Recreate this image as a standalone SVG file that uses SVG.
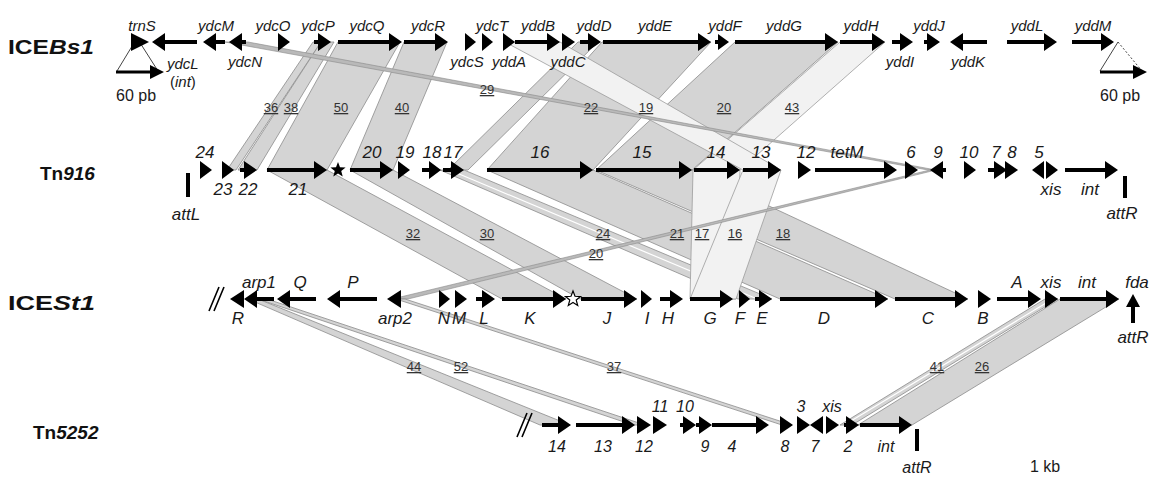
<svg xmlns="http://www.w3.org/2000/svg" width="1151" height="485" viewBox="0 0 1151 485">
<defs>
<style>
text{font-family:"Liberation Sans",Arial,sans-serif}
.band{fill:#d4d4d4;stroke:#8c8c8c;stroke-width:0.8}
.lband{fill:#f2f2f2;stroke:#9c9c9c;stroke-width:0.8}
.tband{fill:#b9b9b9;stroke:#8a8a8a;stroke-width:0.6}
.sep{fill:none;stroke:#fff;stroke-width:1.2}
.gene{fill:#000}
.l15{font-style:italic;font-size:15px;fill:#1a1a1a;text-anchor:middle}
.l16{font-style:italic;font-size:16px;fill:#1a1a1a;text-anchor:middle}
.l17{font-style:italic;font-size:17px;fill:#1a1a1a;text-anchor:middle}
.pct{font-size:13px;fill:#333;text-anchor:middle;text-decoration:underline}
.row{font-weight:bold;font-size:21px;fill:#111}
.rowt{font-weight:bold;font-size:19px;fill:#111}
.pb{font-size:16px;fill:#1a1a1a}
.outline{fill:none;stroke:#444;stroke-width:1}
</style>
<path id="star" d="M0,-8 L2,-2.75 L7.61,-2.47 L3.23,1.05 L4.7,6.47 L0,3.4 L-4.7,6.47 L-3.23,1.05 L-7.61,-2.47 L-2,-2.75 Z"/>
</defs>
<rect width="1151" height="485" fill="#fff"/>

<g id="connectors">
  <polygon class="band" points="313,42 321,42 236,170 227,170"/>
  <polygon class="band" points="321,42 334,42 257,170 238,170"/>
  <polygon class="band" points="338,42 400,42 327,170 267,170"/>
  <polygon class="band" points="404,42 447,42 393,170 350,170"/>
  <polygon class="band" points="578,42 598,42 468,170 448,170"/>
  <polygon class="band" points="602,42 711,42 593,170 487,170"/>
  <polygon class="band" points="735,42 838,42 692,170 596,170"/>
  <polygon class="band" points="267,170 327,170 566,299 502,299"/>
  <polygon class="band" points="350,170 393,170 637,299 580,299"/>
  <polygon class="band" points="487,170 593,170 888,299 780,299"/>
  <polygon class="band" points="596,170 692,170 968,299 895,299"/>
  <polygon class="band" points="440,170 464,170 772,299 738,299"/>
  <path class="sep" d="M452,171 L755,298"/>
  <polygon class="band" points="1060,299 1119,299 912,425 858,425"/>
  <polygon class="lband" points="840,42 885,42 740,170 693,170"/>
  <polygon class="lband" points="505,42 560,42 781,170 743,170"/>
  <polygon class="lband" points="693,170 740,170 736,299 690,299"/>
  <polygon class="lband" points="743,170 781,170 736,299 690,299"/>
  <polygon class="tband" points="225,42 248,42 936,170 928,170"/>
  <polygon class="tband" points="392,299 408,299 936,170 930,170"/>
  <polygon class="band" points="248,299 258,299 570,425 540,425"/>
  <polygon class="band" points="258,299 267,299 645,425 633,425"/>
  <polygon class="band" points="396,299 405,299 792,425 782,425"/>
  <polygon class="band" points="1045,299 1058,299 852,425 840,425"/>
  <path class="sep" d="M1051,300 L846,424"/>

  <g id="identity-labels">
    <text class="pct" x="271" y="112">36</text>
    <text class="pct" x="291" y="112">38</text>
    <text class="pct" x="341" y="112">50</text>
    <text class="pct" x="402" y="112">40</text>
    <text class="pct" x="487" y="94">29</text>
    <text class="pct" x="591" y="112">22</text>
    <text class="pct" x="646" y="112">19</text>
    <text class="pct" x="724" y="112">20</text>
    <text class="pct" x="792" y="112">43</text>
    <text class="pct" x="413" y="238">32</text>
    <text class="pct" x="487" y="238">30</text>
    <text class="pct" x="603" y="238">24</text>
    <text class="pct" x="596" y="258">20</text>
    <text class="pct" x="677" y="238">21</text>
    <text class="pct" x="702" y="238">17</text>
    <text class="pct" x="735" y="238">16</text>
    <text class="pct" x="783" y="238">18</text>
    <text class="pct" x="414" y="371">44</text>
    <text class="pct" x="461" y="371">52</text>
    <text class="pct" x="614" y="371">37</text>
    <text class="pct" x="937" y="371">41</text>
    <text class="pct" x="982" y="371">26</text>
  </g>
</g>

<g id="ICEBs1">
  <text class="row" x="8" y="54" textLength="86" lengthAdjust="spacingAndGlyphs">ICE<tspan font-style="italic">Bs1</tspan></text>
  <g id="left-60pb">
    <path class="outline" d="M117,71 L137,38 L158,71"/>
    <path class="gene" d="M116,70.5 H150 V65 L164,72 L150,79 V73.5 H116 Z"/>
    <text class="pb" x="116" y="101">60 pb</text>
  </g>
  <g id="trnS"><path class="gene" d="M131,33 L149,42 L131,51 Z"/><text class="l15" x="142" y="31">trnS</text></g>
  <g id="ydcL"><path class="gene" d="M197,40 H165 V33 L152,42 L165,51 V44 H197 Z"/><text class="l15" x="167" y="69" style="text-anchor:start">ydcL</text><text class="l15" x="170" y="87" style="text-anchor:start;font-style:normal">(<tspan font-style="italic">int</tspan>)</text></g>
  <g id="ydcM"><path class="gene" d="M225,40 H216 V33 L203,42 L216,51 V44 H225 Z"/><text class="l15" x="216" y="31">ydcM</text></g>
  <g id="ydcN"><path class="gene" d="M246,40 H242 V33 L229,42 L242,51 V44 H246 Z"/><text class="l15" x="245" y="67">ydcN</text></g>
  <g id="ydcO"><path class="gene" d="M278,33 L290,42 L278,51 Z"/><text class="l15" x="273" y="31">ydcO</text></g>
  <g id="ydcP"><path class="gene" d="M314,40 H318 V33 L331,42 L318,51 V44 H314 Z"/><text class="l15" x="318" y="31">ydcP</text></g>
  <g id="ydcQ"><path class="gene" d="M338,40 H389 V33 L402,42 L389,51 V44 H338 Z"/><text class="l15" x="367" y="31">ydcQ</text></g>
  <g id="ydcR"><path class="gene" d="M404,40 H435 V33 L448,42 L435,51 V44 H404 Z"/><text class="l15" x="428" y="31">ydcR</text></g>
  <g id="ydcS"><path class="gene" d="M465,33 L476,42 L465,51 Z"/><text class="l15" x="467" y="67">ydcS</text></g>
  <g id="ydcT"><path class="gene" d="M482,33 L493,42 L482,51 Z"/><text class="l15" x="492" y="31">ydcT</text></g>
  <g id="yddA"><path class="gene" d="M503,33 L515,42 L503,51 Z"/><text class="l15" x="509" y="67">yddA</text></g>
  <g id="yddB"><path class="gene" d="M515,40 H547 V33 L560,42 L547,51 V44 H515 Z"/><text class="l15" x="538" y="31">yddB</text></g>
  <g id="yddC"><path class="gene" d="M562,33 L575,42 L562,51 Z"/><text class="l15" x="568" y="67">yddC</text></g>
  <g id="yddD"><path class="gene" d="M580,40 H588 V33 L601,42 L588,51 V44 H580 Z"/><text class="l15" x="594" y="31">yddD</text></g>
  <g id="yddE"><path class="gene" d="M603,40 H698 V33 L711,42 L698,51 V44 H603 Z"/><text class="l15" x="655" y="31">yddE</text></g>
  <g id="yddF"><path class="gene" d="M715,40 H718 V34 L729,42 L718,50 V44 H715 Z"/><text class="l15" x="725" y="31">yddF</text></g>
  <g id="yddG"><path class="gene" d="M735,40 H825 V33 L838,42 L825,51 V44 H735 Z"/><text class="l15" x="784" y="31">yddG</text></g>
  <g id="yddH"><path class="gene" d="M840,40 H872 V33 L885,42 L872,51 V44 H840 Z"/><text class="l15" x="861" y="31">yddH</text></g>
  <g id="yddI"><path class="gene" d="M892,40 H900 V33 L913,42 L900,51 V44 H892 Z"/><text class="l15" x="900" y="67">yddI</text></g>
  <g id="yddJ"><path class="gene" d="M924,40 H927 V33 L940,42 L927,51 V44 H924 Z"/><text class="l15" x="929" y="31">yddJ</text></g>
  <g id="yddK"><path class="gene" d="M987,40 H963 V33 L950,42 L963,51 V44 H987 Z"/><text class="l15" x="968" y="67">yddK</text></g>
  <g id="yddL"><path class="gene" d="M1007,40 H1044 V33 L1057,42 L1044,51 V44 H1007 Z"/><text class="l15" x="1027" y="31">yddL</text></g>
  <g id="yddM"><path class="gene" d="M1072,40 H1101 V33 L1114,42 L1101,51 V44 H1072 Z"/><text class="l15" x="1093" y="31">yddM</text></g>
  <g id="right-60pb">
    <path class="outline" d="M1100,71 L1118,42"/>
    <path class="outline" d="M1118,42 L1142,71" stroke-dasharray="2,2"/>
    <path class="gene" d="M1100,70.5 H1133 V65 L1147,72 L1133,79 V73.5 H1100 Z"/>
    <text class="pb" x="1100" y="101">60 pb</text>
  </g>
</g>

<g id="Tn916">
  <text class="rowt" x="40" y="180">Tn<tspan font-style="italic">916</tspan></text>
  <g id="Tn916-attL"><rect class="gene" x="186" y="173" width="4" height="24"/><text class="l17" x="186" y="220">attL</text></g>
  <g id="Tn916-24"><path class="gene" d="M200,161 L212,170 L200,179 Z"/><text class="l17" x="205" y="158">24</text></g>
  <g id="Tn916-23"><path class="gene" d="M222,161 L234,170 L222,179 Z"/><text class="l17" x="223" y="195">23</text></g>
  <g id="Tn916-22"><path class="gene" d="M240,168 H244 V161 L257,170 L244,179 V172 H240 Z"/><text class="l17" x="248" y="195">22</text></g>
  <g id="Tn916-21"><path class="gene" d="M267,168 H314 V161 L327,170 L314,179 V172 H267 Z"/><text class="l17" x="298" y="195">21</text></g>
  <g id="Tn916-star"><use href="#star" x="338" y="170" fill="#000"/></g>
  <g id="Tn916-20"><path class="gene" d="M350,168 H380 V161 L393,170 L380,179 V172 H350 Z"/><text class="l17" x="372" y="158">20</text></g>
  <g id="Tn916-19"><path class="gene" d="M398,161 L410,170 L398,179 Z"/><text class="l17" x="405" y="158">19</text></g>
  <g id="Tn916-18"><path class="gene" d="M422,168 H429 V161 L441,170 L429,179 V172 H422 Z"/><text class="l17" x="432" y="158">18</text></g>
  <g id="Tn916-17"><path class="gene" d="M443,168 H451 V161 L464,170 L451,179 V172 H443 Z"/><text class="l17" x="453" y="158">17</text></g>
  <g id="Tn916-16"><path class="gene" d="M487,168 H580 V161 L593,170 L580,179 V172 H487 Z"/><text class="l17" x="540" y="158">16</text></g>
  <g id="Tn916-15"><path class="gene" d="M596,168 H679 V161 L692,170 L679,179 V172 H596 Z"/><text class="l17" x="642" y="158">15</text></g>
  <g id="Tn916-14"><path class="gene" d="M694,168 H727 V161 L740,170 L727,179 V172 H694 Z"/><text class="l17" x="716" y="158">14</text></g>
  <g id="Tn916-13"><path class="gene" d="M743,168 H768 V161 L781,170 L768,179 V172 H743 Z"/><text class="l17" x="761" y="158">13</text></g>
  <g id="Tn916-12"><path class="gene" d="M798,161 L811,170 L798,179 Z"/><text class="l17" x="806" y="158">12</text></g>
  <g id="Tn916-tetM"><path class="gene" d="M815,168 H884 V161 L897,170 L884,179 V172 H815 Z"/><text class="l17" x="847" y="158">tetM</text></g>
  <g id="Tn916-6"><path class="gene" d="M905,161 L918,170 L905,179 Z"/><text class="l17" x="911" y="158">6</text></g>
  <g id="Tn916-9"><path class="gene" d="M946,168 H943 V161 L930,170 L943,179 V172 H946 Z"/><text class="l17" x="938" y="158">9</text></g>
  <g id="Tn916-10"><path class="gene" d="M964,161 L976,170 L964,179 Z"/><text class="l17" x="969" y="158">10</text></g>
  <g id="Tn916-7"><path class="gene" d="M988,168 H994 V161 L1007,170 L994,179 V172 H988 Z"/><text class="l17" x="996" y="158">7</text></g>
  <g id="Tn916-8"><path class="gene" d="M1005,161 L1018,170 L1005,179 Z"/><text class="l17" x="1012" y="158">8</text></g>
  <g id="Tn916-5"><path class="gene" d="M1044,161 L1032,170 L1044,179 Z"/><text class="l17" x="1039" y="158">5</text></g>
  <g id="Tn916-xis"><path class="gene" d="M1046,161 L1058,170 L1046,179 Z"/><text class="l17" x="1051" y="195">xis</text></g>
  <g id="Tn916-int"><path class="gene" d="M1065,168 H1105 V161 L1118,170 L1105,179 V172 H1065 Z"/><text class="l17" x="1090" y="195">int</text></g>
  <g id="Tn916-attR"><rect class="gene" x="1123" y="176" width="4" height="22"/><text class="l17" x="1122" y="219">attR</text></g>
</g>

<g id="ICESt1">
  <text class="row" x="8" y="310" textLength="87" lengthAdjust="spacingAndGlyphs">ICE<tspan font-style="italic">St1</tspan></text>
  <g id="ICESt1-break"><path d="M209,311 L219,287 M214,311 L224,287" stroke="#000" stroke-width="1.6" fill="none"/></g>
  <g id="ICESt1-R"><path class="gene" d="M244,290 L230,299 L244,308 Z"/><text class="l17" x="238" y="324">R</text></g>
  <g id="ICESt1-arp1"><path class="gene" d="M274,297 H257 V290 L244,299 L257,308 V301 H274 Z"/><text class="l17" x="259" y="288">arp1</text></g>
  <g id="ICESt1-Q"><path class="gene" d="M316,297 H290 V290 L277,299 L290,308 V301 H316 Z"/><text class="l17" x="300" y="288">Q</text></g>
  <g id="ICESt1-P"><path class="gene" d="M377,297 H340 V290 L327,299 L340,308 V301 H377 Z"/><text class="l17" x="353" y="288">P</text></g>
  <g id="ICESt1-arp2"><path class="gene" d="M401,290 L387,299 L401,308 Z"/><text class="l17" x="395" y="324">arp2</text></g>
  <g id="ICESt1-N"><path class="gene" d="M439,290 L450,299 L439,308 Z"/><text class="l17" x="444" y="324">N</text></g>
  <g id="ICESt1-M"><path class="gene" d="M455,290 L467,299 L455,308 Z"/><text class="l17" x="459" y="324">M</text></g>
  <g id="ICESt1-L"><path class="gene" d="M476,297 H482 V290 L495,299 L482,308 V301 H476 Z"/><text class="l17" x="484" y="324">L</text></g>
  <g id="ICESt1-K"><path class="gene" d="M502,297 H553 V290 L566,299 L553,308 V301 H502 Z"/><text class="l17" x="530" y="324">K</text></g>
  <g id="ICESt1-star"><use href="#star" x="573" y="299" fill="#fff" stroke="#000" stroke-width="1.2"/></g>
  <g id="ICESt1-J"><path class="gene" d="M581,297 H624 V290 L637,299 L624,308 V301 H581 Z"/><text class="l17" x="607" y="324">J</text></g>
  <g id="ICESt1-I"><path class="gene" d="M641,290 L652,299 L641,308 Z"/><text class="l17" x="647" y="324">I</text></g>
  <g id="ICESt1-H"><path class="gene" d="M660,297 H670 V290 L683,299 L670,308 V301 H660 Z"/><text class="l17" x="668" y="324">H</text></g>
  <g id="ICESt1-G"><path class="gene" d="M690,297 H720 V290 L733,299 L720,308 V301 H690 Z"/><text class="l17" x="710" y="324">G</text></g>
  <g id="ICESt1-F"><path class="gene" d="M739,290 L750,299 L739,308 Z"/><text class="l17" x="740" y="324">F</text></g>
  <g id="ICESt1-E"><path class="gene" d="M755,297 H759 V290 L772,299 L759,308 V301 H755 Z"/><text class="l17" x="762" y="324">E</text></g>
  <g id="ICESt1-D"><path class="gene" d="M780,297 H875 V290 L888,299 L875,308 V301 H780 Z"/><text class="l17" x="824" y="324">D</text></g>
  <g id="ICESt1-C"><path class="gene" d="M895,297 H955 V290 L968,299 L955,308 V301 H895 Z"/><text class="l17" x="928" y="324">C</text></g>
  <g id="ICESt1-B"><path class="gene" d="M978,290 L991,299 L978,308 Z"/><text class="l17" x="983" y="324">B</text></g>
  <g id="ICESt1-A"><path class="gene" d="M997,297 H1028 V290 L1041,299 L1028,308 V301 H997 Z"/><text class="l17" x="1017" y="288">A</text></g>
  <g id="ICESt1-xis"><path class="gene" d="M1045,290 L1058,299 L1045,308 Z"/><text class="l17" x="1051" y="288">xis</text></g>
  <g id="ICESt1-int"><path class="gene" d="M1060,297 H1106 V290 L1119,299 L1106,308 V301 H1060 Z"/><text class="l17" x="1087" y="288">int</text></g>
  <g id="ICESt1-fda"><rect class="gene" x="1131" y="302" width="4" height="21"/><path class="gene" d="M1126,307 L1133,294 L1140,307 Z"/><text class="l17" x="1137" y="288">fda</text></g>
  <g id="ICESt1-attR"><text class="l17" x="1133" y="343">attR</text></g>
</g>

<g id="Tn5252">
  <text class="rowt" x="33" y="439">Tn<tspan font-style="italic">5252</tspan></text>
  <g id="Tn5252-break"><path d="M517,437 L527,413 M522,437 L532,413" stroke="#000" stroke-width="1.6" fill="none"/></g>
  <g id="Tn5252-14"><path class="gene" d="M542,423 H558 V416 L571,425 L558,434 V427 H542 Z"/><text class="l16" x="557" y="452">14</text></g>
  <g id="Tn5252-13"><path class="gene" d="M576,423 H622 V416 L635,425 L622,434 V427 H576 Z"/><text class="l16" x="603" y="452">13</text></g>
  <g id="Tn5252-12"><path class="gene" d="M637,416 L651,425 L637,434 Z"/><text class="l16" x="644" y="452">12</text></g>
  <g id="Tn5252-11"><path class="gene" d="M653,416 L667,425 L653,434 Z"/><text class="l16" x="660" y="412">11</text></g>
  <g id="Tn5252-10"><path class="gene" d="M680,423 H683 V416 L696,425 L683,434 V427 H680 Z"/><text class="l16" x="685" y="412">10</text></g>
  <g id="Tn5252-9"><path class="gene" d="M696,423 H699 V416 L712,425 L699,434 V427 H696 Z"/><text class="l16" x="705" y="452">9</text></g>
  <g id="Tn5252-4"><path class="gene" d="M712,423 H756 V416 L769,425 L756,434 V427 H712 Z"/><text class="l16" x="732" y="452">4</text></g>
  <g id="Tn5252-8"><path class="gene" d="M780,416 L793,425 L780,434 Z"/><text class="l16" x="785" y="452">8</text></g>
  <g id="Tn5252-3"><path class="gene" d="M797,416 L810,425 L797,434 Z"/><text class="l16" x="801" y="412">3</text></g>
  <g id="Tn5252-7"><path class="gene" d="M823,416 L810,425 L823,434 Z"/><text class="l16" x="815" y="452">7</text></g>
  <g id="Tn5252-xis"><path class="gene" d="M826,416 L839,425 L826,434 Z"/><text class="l16" x="832" y="412">xis</text></g>
  <g id="Tn5252-2"><path class="gene" d="M844,423 H846 V416 L859,425 L846,434 V427 H844 Z"/><text class="l16" x="848" y="452">2</text></g>
  <g id="Tn5252-int"><path class="gene" d="M860,423 H899 V416 L912,425 L899,434 V427 H860 Z"/><text class="l16" x="886" y="452">int</text></g>
  <g id="Tn5252-attR"><rect class="gene" x="915" y="429" width="4" height="22"/><text class="l16" x="917" y="473">attR</text></g>
</g>

<g id="scale"><text class="pb" x="1030" y="472">1 kb</text></g>
</svg>
